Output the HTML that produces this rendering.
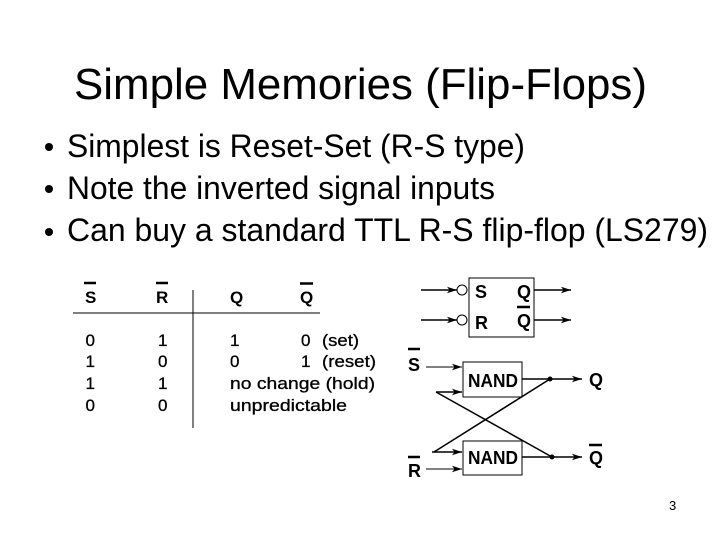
<!DOCTYPE html>
<html><head><meta charset="utf-8"><style>
html,body{margin:0;padding:0;background:#fff;width:720px;height:540px;overflow:hidden}
svg{display:block}
text{font-family:"Liberation Sans",Arial,sans-serif;fill:#000}
.t{font-size:17px;stroke:#000;stroke-width:.3px}
.h{font-size:17px;font-weight:bold}
.n{font-size:18px;font-weight:bold}
line{stroke:#000}
</style></head><body>
<svg width="720" height="540" viewBox="0 0 720 540" xmlns="http://www.w3.org/2000/svg">
<defs><marker id="a" markerWidth="12" markerHeight="8" refX="10" refY="4" orient="auto" markerUnits="userSpaceOnUse"><path d="M0 0.8L10 4L0 7.2L2.5 4Z" fill="#000"/></marker></defs>
<text x="74" y="99" font-size="44" textLength="573" lengthAdjust="spacingAndGlyphs">Simple Memories (Flip-Flops)</text>
<circle cx="49" cy="147" r="4"/><circle cx="49" cy="189" r="4"/><circle cx="49" cy="232" r="4"/>
<text x="67" y="157" font-size="32" textLength="458" lengthAdjust="spacingAndGlyphs">Simplest is Reset-Set (R-S type)</text>
<text x="67" y="199" font-size="32" textLength="428" lengthAdjust="spacingAndGlyphs">Note the inverted signal inputs</text>
<text x="67" y="241" font-size="32" textLength="641" lengthAdjust="spacingAndGlyphs">Can buy a standard TTL R-S flip-flop (LS279)</text>

<line x1="73" y1="313" x2="320" y2="313" stroke-width="1"/>
<line x1="193" y1="290" x2="193" y2="428" stroke-width="1"/>
<g stroke-width="2.5"><line x1="84" y1="283" x2="96" y2="283"/><line x1="156" y1="283" x2="168" y2="283"/><line x1="300" y1="283.500" x2="313" y2="283.500"/></g>
<text class="h" x="85" y="303">S</text><text class="h" x="156" y="303">R</text><text class="h" x="230" y="303">Q</text><text class="h" x="300" y="303">Q</text>
<g class="t">
<text x="85.500" y="346">0</text><text x="85.500" y="367">1</text><text x="85.500" y="389">1</text><text x="85.500" y="411">0</text>
<text x="158" y="346">1</text><text x="158" y="367">0</text><text x="158" y="389">1</text><text x="158" y="411">0</text>
<text x="230" y="346">1</text><text x="230" y="367">0</text>
<text x="301" y="346">0</text><text x="301" y="367">1</text>
<text x="322" y="346" textLength="37" lengthAdjust="spacingAndGlyphs">(set)</text><text x="322" y="367" textLength="54" lengthAdjust="spacingAndGlyphs">(reset)</text>
<text x="230" y="389" textLength="145" lengthAdjust="spacingAndGlyphs">no change (hold)</text>
<text x="230" y="411" textLength="117" lengthAdjust="spacingAndGlyphs">unpredictable</text>
</g>

<rect x="469" y="278" width="65" height="59" fill="none" stroke="#000" stroke-width="1"/>
<circle cx="462" cy="290" r="5" fill="#fff" stroke="#000" stroke-width="1"/><circle cx="462" cy="320" r="5" fill="#fff" stroke="#000" stroke-width="1"/>
<g stroke-width="1.500">
<line x1="421" y1="290" x2="457" y2="290" marker-end="url(#a)"/>
<line x1="421" y1="320" x2="457" y2="320" marker-end="url(#a)"/>
<line x1="534" y1="290" x2="571" y2="290" marker-end="url(#a)"/>
<line x1="534" y1="320" x2="571" y2="320" marker-end="url(#a)"/>
</g>
<text class="n" x="475" y="298">S</text><text class="n" x="475" y="329">R</text>
<text class="n" x="517" y="298">Q</text><text class="n" x="517" y="327">Q</text>
<line x1="517" y1="307" x2="530" y2="307" stroke-width="2.500"/>

<rect x="463" y="362" width="59" height="35" fill="none" stroke="#000"/>
<rect x="463" y="441" width="59" height="34" fill="none" stroke="#000"/>
<text class="n" x="468" y="387" textLength="50" lengthAdjust="spacingAndGlyphs">NAND</text><text class="n" x="468" y="464" textLength="50" lengthAdjust="spacingAndGlyphs">NAND</text>
<g stroke-width="1">
<line x1="426" y1="367" x2="462" y2="367" marker-end="url(#a)"/>
<line x1="426" y1="469" x2="462" y2="469" marker-end="url(#a)"/>
</g>
<g stroke-width="1.500">
<line x1="436" y1="392" x2="462" y2="392" marker-end="url(#a)"/>
<line x1="432" y1="452" x2="462" y2="452" marker-end="url(#a)"/>
<line x1="436" y1="392" x2="552" y2="457"/>
<line x1="434" y1="452" x2="550" y2="379"/>
<line x1="522" y1="379" x2="582" y2="379" marker-end="url(#a)"/>
<line x1="522" y1="457" x2="582" y2="457" marker-end="url(#a)"/>
</g>
<circle cx="550" cy="379" r="2.500"/><circle cx="552" cy="457" r="2.500"/>
<text class="n" x="408" y="371">S</text><text class="n" x="408" y="477">R</text>
<line x1="408" y1="349" x2="420" y2="349" stroke-width="2.500"/><line x1="408" y1="457" x2="420" y2="457" stroke-width="2.500"/>
<text class="n" x="589" y="386">Q</text><text class="n" x="589" y="464">Q</text>
<line x1="589" y1="445" x2="602" y2="445" stroke-width="2.500"/>
<text x="669" y="510" font-size="13">3</text>
</svg>
</body></html>
